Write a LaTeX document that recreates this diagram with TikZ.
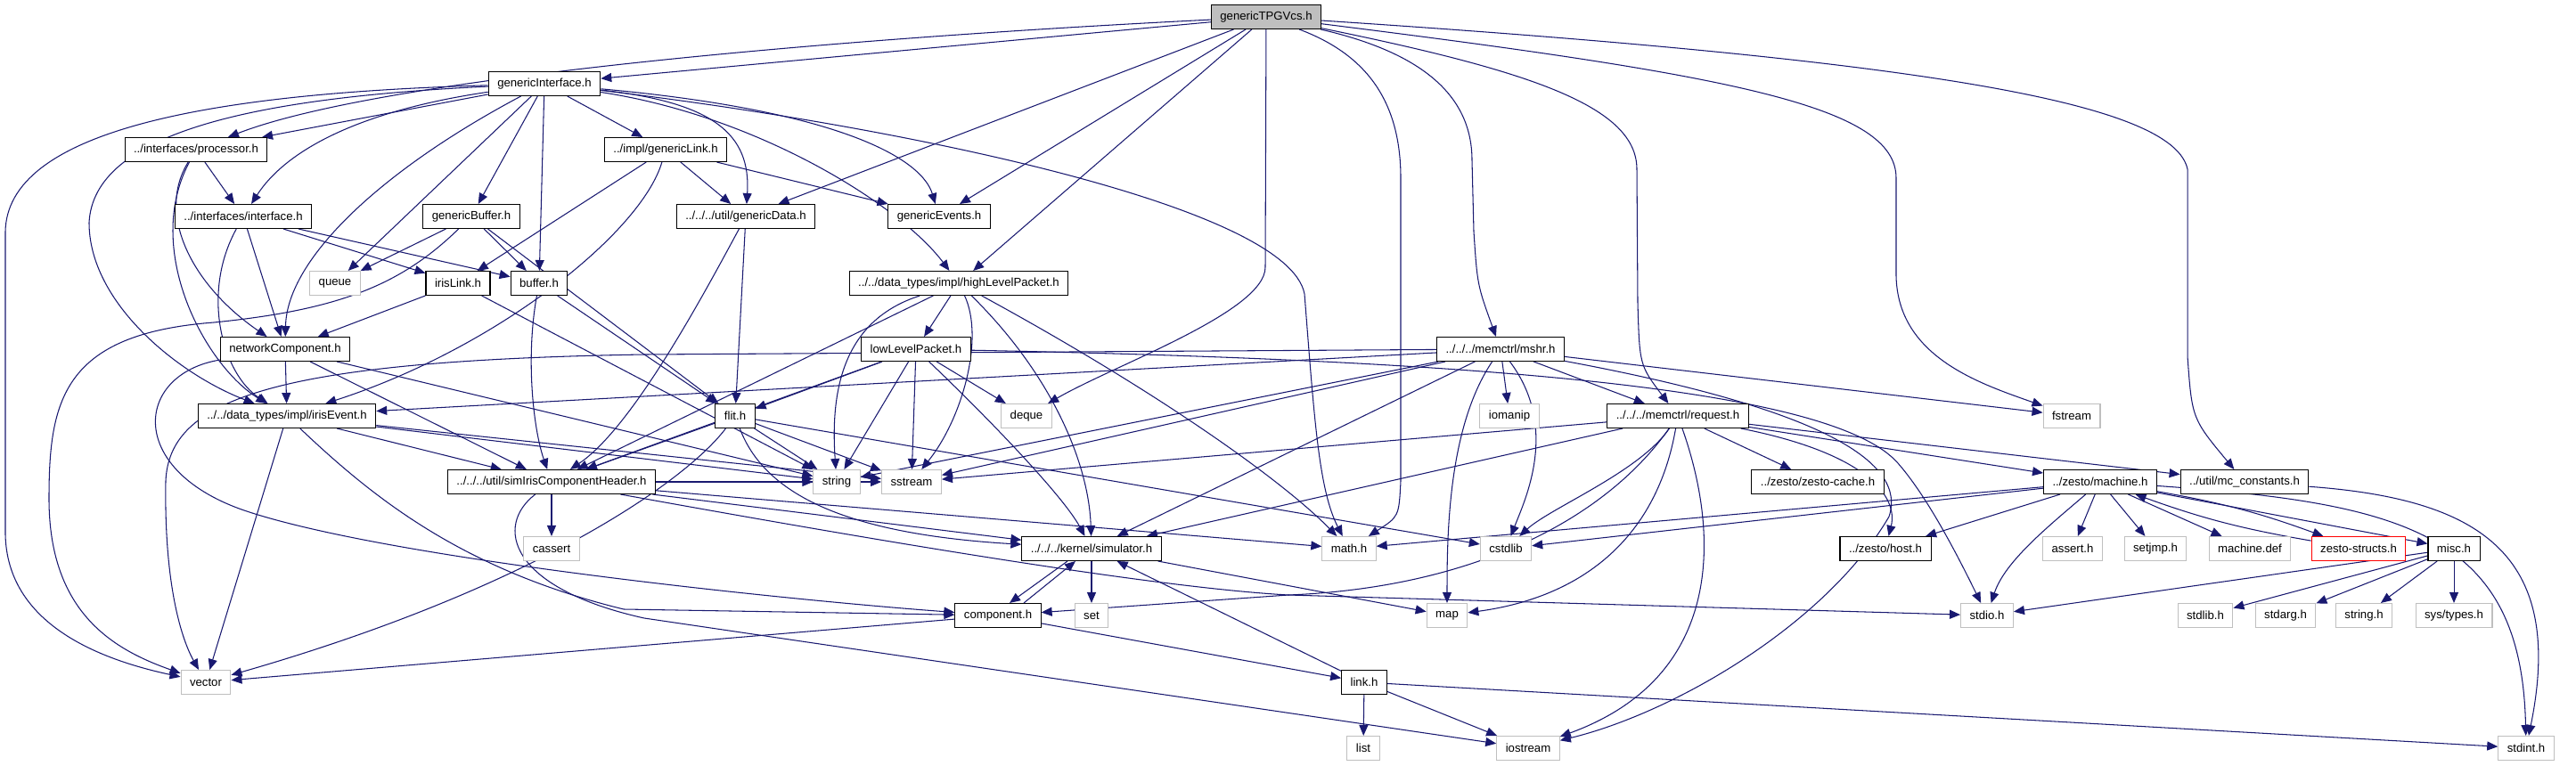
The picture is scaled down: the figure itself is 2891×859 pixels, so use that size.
\documentclass[tikz,border=0pt]{standalone}
\usepackage{fontspec}
\setmainfont{Liberation Sans}
\usetikzlibrary{arrows.meta,backgrounds}
\definecolor{edgeblue}{HTML}{191970}
\definecolor{extgray}{HTML}{BFBFBF}
\begin{document}
\begin{tikzpicture}[x=0.02cm,y=-0.02cm,
  file/.style={draw=black,fill=white,line width=0.6pt,inner xsep=0.2cm,inner ysep=0pt,minimum height=0.54cm,font=\fontsize{7.5}{9}\selectfont},
  sysfile/.style={file,draw=extgray},
  rootfile/.style={file,fill=extgray},
  cutfile/.style={file,draw=red},
  dep/.style={edgeblue,line width=0.6pt,-{Triangle[length=0.24cm,width=0.2cm]}}]
\useasboundingbox (0,0) rectangle (2891,859);
\node[rootfile] (T) at (1421,19) {genericTPGVcs.h};
\node[file] (gi) at (611,94) {genericInterface.h};
\node[file] (proc) at (220,168) {../interfaces/processor.h};
\node[file] (glink) at (747,168) {../impl/genericLink.h};
\node[file] (iface) at (273,243) {../interfaces/interface.h};
\node[file] (gbuf) at (529,243) {genericBuffer.h};
\node[file] (gdata) at (837,243) {../../../util/genericData.h};
\node[file] (gev) at (1054,243) {genericEvents.h};
\node[sysfile] (queue) at (376,318) {queue};
\node[file] (irislink) at (514,318) {irisLink.h};
\node[file] (buffer) at (605,318) {buffer.h};
\node[file] (hlp) at (1076,318) {../../data\_types/impl/highLevelPacket.h};
\node[file] (netc) at (320,392) {networkComponent.h};
\node[file] (llp) at (1028,392) {lowLevelPacket.h};
\node[file] (mshr) at (1684,392) {../../../memctrl/mshr.h};
\node[file] (irisev) at (322,467) {../../data\_types/impl/irisEvent.h};
\node[file] (flit) at (825,467) {flit.h};
\node[sysfile] (deque) at (1152,467) {deque};
\node[sysfile] (iomanip) at (1694,467) {iomanip};
\node[file] (request) at (1883,467) {../../../memctrl/request.h};
\node[sysfile] (fstream) at (2325,467) {fstream};
\node[file] (simhdr) at (619,541) {../../../util/simIrisComponentHeader.h};
\node[sysfile] (string) at (939,541) {string};
\node[sysfile] (sstream) at (1023,541) {sstream};
\node[file] (zcache) at (2040,541) {../zesto/zesto-cache.h};
\node[file] (machine) at (2357,541) {../zesto/machine.h};
\node[file] (mcconst) at (2519,541) {../util/mc\_constants.h};
\node[sysfile] (cassert) at (619,616) {cassert};
\node[file] (sim) at (1225,616) {../../../kernel/simulator.h};
\node[sysfile] (math) at (1514,616) {math.h};
\node[sysfile] (cstdlib) at (1690,616) {cstdlib};
\node[file] (host) at (2116,616) {../zesto/host.h};
\node[sysfile] (assert) at (2326,616) {assert.h};
\node[sysfile] (setjmp) at (2419,616) {setjmp.h};
\node[sysfile] (machdef) at (2525,616) {machine.def};
\node[cutfile] (zstructs) at (2647,616) {zesto-structs.h};
\node[file] (misc) at (2754,616) {misc.h};
\node[file] (comp) at (1120,691) {component.h};
\node[sysfile] (set) at (1225,691) {set};
\node[sysfile] (map) at (1624,691) {map};
\node[sysfile] (stdio) at (2230,691) {stdio.h};
\node[sysfile] (stdlib) at (2475,691) {stdlib.h};
\node[sysfile] (stdarg) at (2565,691) {stdarg.h};
\node[sysfile] (stringh) at (2653,691) {string.h};
\node[sysfile] (systypes) at (2754,691) {sys/types.h};
\node[sysfile] (vector) at (231,766) {vector};
\node[file] (link) at (1531,766) {link.h};
\node[sysfile] (list) at (1530,840) {list};
\node[sysfile] (iostream) at (1715,840) {iostream};
\node[sysfile] (stdint) at (2835,840) {stdint.h};
\begin{pgfonlayer}{background}
\draw[dep] (T) -- (gi);
\draw[dep] (T) .. controls (900,45) and (420,90) .. (proc);
\draw[dep] (T) -- (gdata);
\draw[dep] (T) -- (gev);
\draw[dep] (T) -- (hlp);
\draw[dep] (T) -- (1420,300) .. controls (1420,350) and (1250,410) .. (deque);
\draw[dep] (T) .. controls (1530,60) and (1572,110) .. (1572,200) -- (1572,540) .. controls (1570,580) .. (math);
\draw[dep] (T) .. controls (1600,60) and (1652,110) .. (1652,180) -- (1654,260) .. controls (1658,320) .. (mshr);
\draw[dep] (T) .. controls (1720,80) and (1837,120) .. (1837,190) -- (1838,340) .. controls (1840,410) .. (request);
\draw[dep] (T) .. controls (1950,85) and (2128,120) .. (2128,200) -- (2128,310) .. controls (2130,400) and (2220,430) .. (fstream);
\draw[dep] (T) .. controls (2200,70) and (2440,120) .. (2455,190) -- (2455,400) .. controls (2460,470) .. (mcconst);
\draw[dep] (gi) -- (proc);
\draw[dep] (gi) -- (glink);
\draw[dep] (gi) .. controls (400,125) and (320,170) .. (iface);
\draw[dep] (gi) -- (gbuf);
\draw[dep] (gi) -- (queue);
\draw[dep] (gi) -- (buffer);
\draw[dep] (gi) .. controls (430,190) and (322,290) .. (netc);
\draw[dep] (gi) .. controls (280,110) and (105,150) .. (100,250) .. controls (100,340) and (200,420) .. (irisev);
\draw[dep] (gi) .. controls (220,105) and (8,150) .. (6,260) -- (6,600) .. controls (8,700) and (110,740) .. (vector);
\draw[dep] (gi) .. controls (1000,140) and (1445,230) .. (1464,330) .. controls (1475,470) and (1480,550) .. (math);
\draw[dep] (gi) .. controls (800,115) and (843,150) .. (gdata);
\draw[dep] (gi) .. controls (950,125) and (1035,180) .. (gev);
\draw[dep] (gi) .. controls (850,130) and (1010,230) .. (hlp);
\draw[dep] (proc) -- (iface);
\draw[dep] (proc) .. controls (175,240) and (215,320) .. (netc);
\draw[dep] (proc) .. controls (160,280) and (230,410) .. (irisev);
\draw[dep] (glink) -- (gdata);
\draw[dep] (glink) -- (gev);
\draw[dep] (glink) -- (irislink);
\draw[dep] (glink) .. controls (720,260) and (560,390) .. (irisev);
\draw[dep] (iface) -- (netc);
\draw[dep] (iface) .. controls (225,330) and (250,420) .. (irisev);
\draw[dep] (iface) -- (irislink);
\draw[dep] (iface) -- (buffer);
\draw[dep] (gbuf) -- (queue);
\draw[dep] (gbuf) -- (buffer);
\draw[dep] (gbuf) -- (flit);
\draw[dep] (gbuf) .. controls (450,320) and (380,348) .. (240,362) .. controls (70,375) and (55,450) .. (55,560) .. controls (55,690) and (130,730) .. (vector);
\draw[dep] (gdata) -- (flit);
\draw[dep] (gdata) .. controls (790,330) and (710,480) .. (simhdr);
\draw[dep] (irislink) -- (netc);
\draw[dep] (irislink) -- (string);
\draw[dep] (buffer) -- (flit);
\draw[dep] (buffer) .. controls (590,400) and (598,480) .. (simhdr);
\draw[dep] (hlp) -- (llp);
\draw[dep] (hlp) -- (simhdr);
\draw[dep] (hlp) .. controls (945,360) and (932,440) .. (string);
\draw[dep] (hlp) .. controls (1105,380) and (1080,470) .. (sstream);
\draw[dep] (hlp) .. controls (1180,420) and (1222,520) .. (sim);
\draw[dep] (hlp) .. controls (1300,440) and (1440,540) .. (math);
\draw[dep] (llp) -- (flit);
\draw[dep] (llp) -- (string);
\draw[dep] (llp) -- (sstream);
\draw[dep] (llp) -- (deque);
\draw[dep] (llp) -- (simhdr);
\draw[dep] (llp) .. controls (1120,480) and (1195,560) .. (sim);
\draw[dep] (llp) .. controls (1700,405) and (2060,440) .. (2130,520) .. controls (2165,560) and (2200,630) .. (stdio);
\draw[dep] (netc) -- (irisev);
\draw[dep] (netc) -- (simhdr);
\draw[dep] (netc) -- (string);
\draw[dep] (netc) .. controls (150,420) and (140,530) .. (280,575) .. controls (450,630) and (900,675) .. (comp);
\draw[dep] (irisev) -- (simhdr);
\draw[dep] (irisev) -- (string);
\draw[dep] (irisev) -- (sstream);
\draw[dep] (irisev) -- (vector);
\draw[dep] (irisev) .. controls (420,560) and (520,640) .. (700,684) -- (comp);
\draw[dep] (flit) -- (simhdr);
\draw[dep] (flit) -- (string);
\draw[dep] (flit) -- (sstream);
\draw[dep] (flit) .. controls (770,540) and (600,660) .. (vector);
\draw[dep] (flit) .. controls (860,560) and (960,600) .. (sim);
\draw[dep] (flit) -- (cstdlib);
\draw[dep] (simhdr) -- (cassert);
\draw[dep] (simhdr) -- (string);
\draw[dep] (simhdr) -- (sstream);
\draw[dep] (simhdr) -- (sim);
\draw[dep] (simhdr) -- (math);
\draw[dep] (simhdr) .. controls (555,590) and (570,660) .. (723,694) -- (iostream);
\draw[dep] (simhdr) .. controls (1000,610) and (1300,660) .. (1446,668) -- (stdio);
\draw[dep] ([xshift=-0.54cm]sim.south) -- ([xshift=0.26cm]comp.north);
\draw[dep] (sim) -- (set);
\draw[dep] (sim) -- (map);
\draw[dep] ([xshift=0.58cm]comp.north) -- ([xshift=-0.36cm]sim.south);
\draw[dep] (comp) -- (vector);
\draw[dep] (comp) -- (link);
\draw[dep] (link) -- (sim);
\draw[dep] (link) -- (list);
\draw[dep] (link) -- (iostream);
\draw[dep] (link) -- (stdint);
\draw[dep] (mshr) -- (irisev);
\draw[dep] (mshr) -- (723,398) .. controls (300,405) and (190,450) .. (186,540) .. controls (184,660) and (205,720) .. (vector);
\draw[dep] (mshr) -- (string);
\draw[dep] (mshr) -- (sstream);
\draw[dep] (mshr) -- (sim);
\draw[dep] (mshr) -- (iomanip);
\draw[dep] (mshr) -- (request);
\draw[dep] (mshr) .. controls (1625,480) and (1624,600) .. (map);
\draw[dep] (mshr) .. controls (1750,480) and (1712,560) .. (cstdlib);
\draw[dep] (mshr) -- (fstream);
\draw[dep] (mshr) .. controls (2050,460) and (2140,520) .. (2120,580) .. controls (2050,700) and (1880,800) .. (iostream);
\draw[dep] (request) -- (sstream);
\draw[dep] (request) -- (sim);
\draw[dep] (request) .. controls (1800,585) and (1650,660) .. (1446,668) -- (comp);
\draw[dep] (request) .. controls (1860,600) and (1780,670) .. (map);
\draw[dep] (request) .. controls (1840,530) and (1740,570) .. (cstdlib);
\draw[dep] (request) .. controls (1930,600) and (1935,760) .. (iostream);
\draw[dep] (request) -- (zcache);
\draw[dep] (request) -- (machine);
\draw[dep] (request) -- (mcconst);
\draw[dep] (request) .. controls (2100,510) and (2130,560) .. (host);
\draw[dep] (machine) -- (math);
\draw[dep] (machine) -- (cstdlib);
\draw[dep] (machine) -- (host);
\draw[dep] (machine) .. controls (2300,590) and (2250,630) .. (stdio);
\draw[dep] (machine) -- (assert);
\draw[dep] (machine) -- (setjmp);
\draw[dep] (machine) -- (machdef);
\draw[dep] (machine) to[bend left=5] (zstructs);
\draw[dep] (zstructs) to[bend left=5] (machine);
\draw[dep] (machine) -- (misc);
\draw[dep] (machine) .. controls (2700,565) and (2830,600) .. (stdint);
\draw[dep] (mcconst) .. controls (2780,560) and (2880,620) .. (stdint);
\draw[dep] (misc) -- (stdio);
\draw[dep] (misc) -- (stdlib);
\draw[dep] (misc) -- (stdarg);
\draw[dep] (misc) -- (stringh);
\draw[dep] (misc) -- (systypes);
\end{pgfonlayer}
\end{tikzpicture}
\end{document}
